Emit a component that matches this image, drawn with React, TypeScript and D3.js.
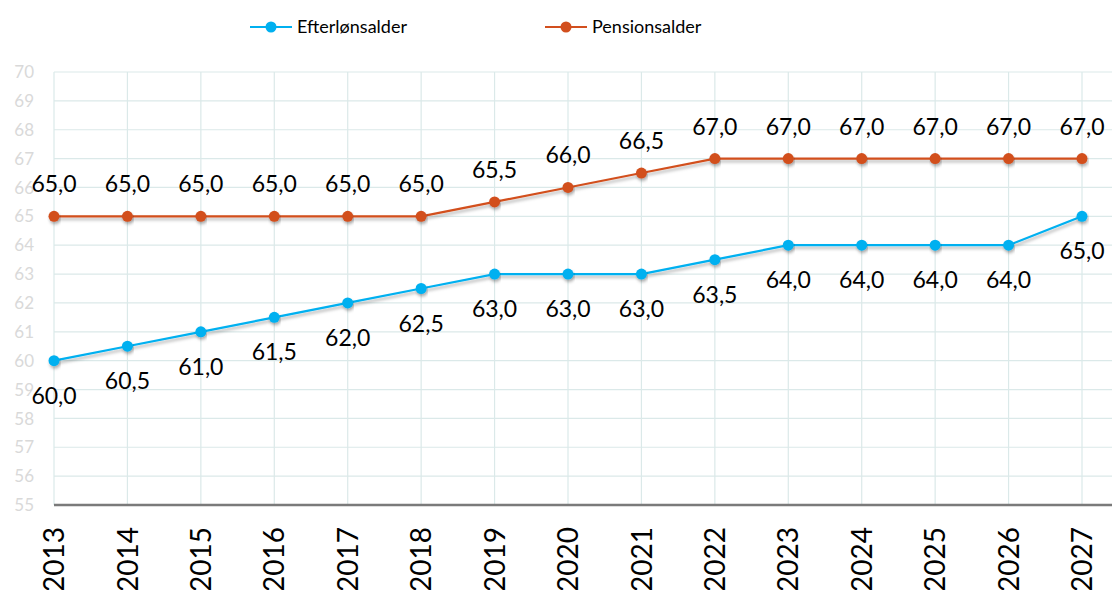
import * as d3 from "d3";
import { useEffect, useRef } from "react";

// Years on the x axis
const years = [2013, 2014, 2015, 2016, 2017, 2018, 2019, 2020, 2021, 2022, 2023, 2024, 2025, 2026, 2027];
// Efterlønsalder per year
const efterlon = [60, 60.5, 61, 61.5, 62, 62.5, 63, 63, 63, 63.5, 64, 64, 64, 64, 65];
// Pensionsalder per year
const pension = [65, 65, 65, 65, 65, 65, 65.5, 66, 66.5, 67, 67, 67, 67, 67, 67];
// y axis ticks
const yTicks = [55, 56, 57, 58, 59, 60, 61, 62, 63, 64, 65, 66, 67, 68, 69, 70];

const seriesNames = ["Efterlønsalder", "Pensionsalder"];
const colors = ["#00b0f0", "#d24f1e"];

function App() {
    const ref = useRef<SVGSVGElement>(null);

    useEffect(() => {
        document.body.style.margin = "0";
        const width = 1112,
            height = 590;
        const left = 54,
            right = 1112,
            top = 72,
            bottom = 505;

        const x = d3.scalePoint<number>().domain(years).range([left, 1082]);
        const y = d3.scaleLinear().domain([55, 70]).range([bottom, top]);

        const svg = d3.select(ref.current);
        svg.selectAll("*").remove();
        svg.attr("width", width).attr("height", height);

        const font = "Lato, 'Open Sans', sans-serif";

        // drop shadow for the lines
        const defs = svg.append("defs");
        defs
            .append("filter")
            .attr("id", "shadow")
            .attr("x", "-5%")
            .attr("y", "-50%")
            .attr("width", "110%")
            .attr("height", "200%")
            .append("feDropShadow")
            .attr("dx", 1)
            .attr("dy", 2.5)
            .attr("stdDeviation", 1.8)
            .attr("flood-color", "#000")
            .attr("flood-opacity", 0.3);

        // grid
        const grid = svg.append("g").attr("stroke", "#dbe9e9").attr("stroke-width", 1.2);
        grid
            .selectAll("line.h")
            .data(yTicks)
            .enter()
            .append("line")
            .attr("x1", left)
            .attr("x2", right)
            .attr("y1", (d) => y(d))
            .attr("y2", (d) => y(d));
        grid
            .selectAll("line.v")
            .data(years)
            .enter()
            .append("line")
            .attr("x1", (d) => x(d)!)
            .attr("x2", (d) => x(d)!)
            .attr("y1", top)
            .attr("y2", bottom);

        // y labels
        svg
            .append("g")
            .selectAll("text")
            .data(yTicks)
            .enter()
            .append("text")
            .attr("x", 34)
            .attr("y", (d) => y(d))
            .attr("dy", "0.36em")
            .attr("text-anchor", "end")
            .attr("font-family", font)
            .attr("font-size", 17)
            .attr("fill", "#d9d9d9")
            .text((d) => d);

        // x axis line
        svg
            .append("line")
            .attr("x1", left)
            .attr("x2", right)
            .attr("y1", bottom)
            .attr("y2", bottom)
            .attr("stroke", "#7a7a7a")
            .attr("stroke-width", 2.5);

        // x labels, rotated
        svg
            .append("g")
            .selectAll("text")
            .data(years)
            .enter()
            .append("text")
            .attr("transform", (d) => "translate(" + x(d) + ",527) rotate(-90)")
            .attr("dy", "0.36em")
            .attr("text-anchor", "end")
            .attr("font-family", font)
            .attr("font-size", 28)
            .attr("fill", "#000")
            .text((d) => d);

        const line = d3
            .line<number>()
            .x((d, i) => x(years[i])!)
            .y((d) => y(d));

        const fmt = (v: number) => v.toFixed(1).replace(".", ",");

        [efterlon, pension].forEach((values, s) => {
            const g = svg.append("g");
            g.append("path")
                .datum(values)
                .attr("d", line)
                .attr("fill", "none")
                .attr("stroke", colors[s])
                .attr("stroke-width", 2.2)
                .attr("filter", "url(#shadow)");
            g.selectAll("circle")
                .data(values)
                .enter()
                .append("circle")
                .attr("cx", (d, i) => x(years[i])!)
                .attr("cy", (d) => y(d))
                .attr("r", 5.5)
                .attr("fill", colors[s])
                .attr("filter", "url(#shadow)");
            // data labels: below for Efterløn, above for Pension
            g.selectAll("text")
                .data(values)
                .enter()
                .append("text")
                .attr("x", (d, i) => x(years[i])!)
                .attr("y", (d) => (s === 0 ? y(d) + 43 : y(d) - 24))
                .attr("text-anchor", "middle")
                .attr("font-family", font)
                .attr("font-size", 23)
                .attr("fill", "#000")
                .text((d) => fmt(d));
        });

        // legend
        const legendX = [250, 545];
        seriesNames.forEach((name, i) => {
            const lg = svg.append("g").attr("transform", "translate(" + legendX[i] + ",27)");
            lg.append("line")
                .attr("x1", 0)
                .attr("x2", 42)
                .attr("stroke", colors[i])
                .attr("stroke-width", 2.2);
            lg.append("circle").attr("cx", 21).attr("r", 5.5).attr("fill", colors[i]);
            lg.append("text")
                .attr("x", 47)
                .attr("dy", "0.36em")
                .attr("font-family", font)
                .attr("font-size", 18)
                .attr("fill", "#000")
                .text(name);
        });
    }, []);

    return <svg ref={ref}></svg>;
}

export default App;
